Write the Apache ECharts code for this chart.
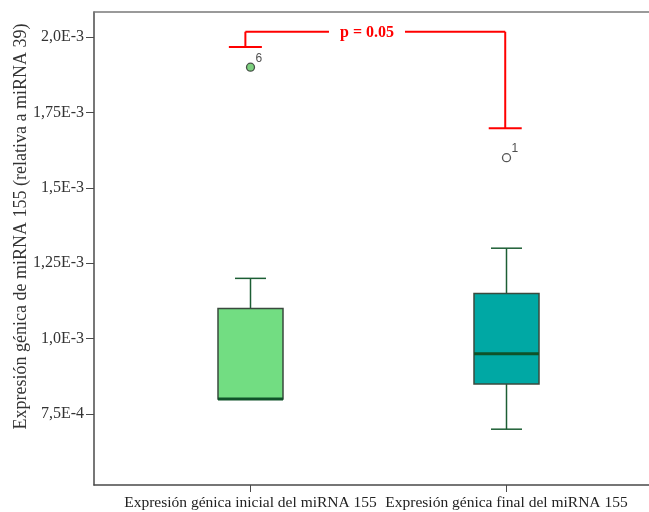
<!DOCTYPE html>
<html><head><meta charset="utf-8">
<script src="https://cdn.jsdelivr.net/npm/echarts@6/dist/echarts.min.js"></script>
<style>html,body{margin:0;padding:0;background:#fff}#c{width:649px;height:512px}</style>
</head><body><div id="c"></div>
<script>
// ---- data ----
const categories = ['Expresión génica inicial del miRNA 155', 'Expresión génica final del miRNA 155'];
const boxMin    = [0.00080, 0.00070];
const boxQ1     = [0.00080, 0.00085];
const boxMedian = [0.00080, 0.00095];
const boxQ3     = [0.00110, 0.00115];
const boxMax    = [0.00120, 0.00130];
const outlierCategory = [0, 1];
const outlierValues   = [0.00190, 0.00160];
const outlierIds      = ['6', '1'];
const tickValues = [0.00075, 0.001, 0.00125, 0.0015, 0.00175, 0.002];
const tickLabels = ['7,5E-4', '1,0E-3', '1,25E-3', '1,5E-3', '1,75E-3', '2,0E-3'];
const yMin = 0.000515, yMax = 0.002083;
const yName = 'Expresión génica de miRNA 155 (relativa a miRNA 39)';
const pLabel = 'p = 0.05';
const bracketX = [-0.02, 0.995];          // category positions of bracket legs
const bracketY = [0.001967, 0.0020176, 0.001698]; // left end, top, right end

// ---- styles ----
const serif = 'Liberation Serif';
const axisColor = '#4a4a4a';
const boxColors = ['#72dd82', '#00a8a4'];
const outlierFill = ['#5cc45f', '#ffffff'];
const whiskerColor = '#1c5e34';
const medianColor = '#0f5229';
const boxBorder = '#3a4a3e';
const boxWidth = 65, capWidth = 31;

function tickFmt(v) {
  let best = 0;
  tickValues.forEach((t, k) => { if (Math.abs(t - v) < Math.abs(tickValues[best] - v)) best = k; });
  return tickLabels[best];
}

const chart = echarts.init(document.getElementById('c'));
const xExt = [-0.6113, 1.5566];
const option = {
  animation: false,
  grid: [
    {left: 94, right: 0, top: 12, bottom: 27, containLabel: false, outerBoundsMode: 'none'},
    {left: 122.5, right: 14.5, top: 12, bottom: 27, containLabel: false, outerBoundsMode: 'none'}
  ],
  xAxis: [
    {gridIndex: 0, type: 'value', min: xExt[0], max: xExt[1], position: 'bottom',
     axisLine: {show: true, onZero: false, lineStyle: {color: axisColor, width: 1.5}},
     axisTick: {show: false}, axisLabel: {show: false}, splitLine: {show: false}},
    {gridIndex: 0, type: 'value', min: xExt[0], max: xExt[1], position: 'top',
     axisLine: {show: true, onZero: false, lineStyle: {color: '#7a7a7a', width: 1.5}},
     axisTick: {show: false}, axisLabel: {show: false}, splitLine: {show: false}},
    {gridIndex: 1, type: 'category', data: categories, position: 'bottom',
     axisLine: {show: false, onZero: false},
     axisTick: {show: true, alignWithLabel: true, length: 7, lineStyle: {color: axisColor, width: 1}},
     axisLabel: {interval: 0, margin: 10, fontFamily: serif, fontSize: 15.5, color: '#222'},
     splitLine: {show: false}}
  ],
  yAxis: [
    {gridIndex: 0, type: 'value', min: yMin, max: yMax,
     axisLine: {show: true, onZero: false, lineStyle: {color: axisColor, width: 1.5}},
     axisTick: {show: true, length: 8, customValues: tickValues, lineStyle: {color: axisColor, width: 1}},
     axisLabel: {customValues: tickValues, formatter: tickFmt, fontFamily: serif, fontSize: 16, color: '#333', margin: 10},
     splitLine: {show: false},
     name: yName, nameLocation: 'middle', nameRotate: 90, nameGap: 64, nameMoveOverlap: false,
     nameTextStyle: {fontFamily: serif, fontSize: 18, color: '#333', padding: [0, 0, 0, 44]}},
    {gridIndex: 1, type: 'value', min: yMin, max: yMax, show: false}
  ],
  series: [
    {
      type: 'custom', xAxisIndex: 2, yAxisIndex: 1,
      data: categories.map((c, i) => [i, boxMin[i], boxQ1[i], boxMedian[i], boxQ3[i], boxMax[i]]),
      encode: {x: 0, y: [1, 2, 3, 4, 5]},
      renderItem: function (params, api) {
        const i = api.value(0);
        const vMin = api.value(1), vQ1 = api.value(2), vMed = api.value(3), vQ3 = api.value(4), vMax = api.value(5);
        const top = api.coord([i, vMax]), q3 = api.coord([i, vQ3]), med = api.coord([i, vMed]);
        const q1 = api.coord([i, vQ1]), bot = api.coord([i, vMin]);
        const x = top[0], hw = boxWidth / 2, cw = capWidth / 2;
        const wl = {stroke: whiskerColor, lineWidth: 1.5};
        const ch = [];
        if (vMax > vQ3) {
          ch.push({type: 'line', shape: {x1: x, y1: top[1], x2: x, y2: q3[1]}, style: wl});
          ch.push({type: 'line', shape: {x1: x - cw, y1: top[1], x2: x + cw, y2: top[1]}, style: wl});
        }
        if (vMin < vQ1) {
          ch.push({type: 'line', shape: {x1: x, y1: q1[1], x2: x, y2: bot[1]}, style: wl});
          ch.push({type: 'line', shape: {x1: x - cw, y1: bot[1], x2: x + cw, y2: bot[1]}, style: wl});
        }
        ch.push({type: 'rect', shape: {x: x - hw, y: q3[1], width: boxWidth, height: q1[1] - q3[1]},
                 style: {fill: boxColors[i], stroke: boxBorder, lineWidth: 1.5}});
        ch.push({type: 'line', shape: {x1: x - hw, y1: med[1], x2: x + hw, y2: med[1]},
                 style: {stroke: medianColor, lineWidth: 3}});
        return {type: 'group', children: ch};
      }
    },
    {
      type: 'scatter', xAxisIndex: 2, yAxisIndex: 1, symbol: 'circle', symbolSize: 8,
      data: outlierValues.map((v, k) => ({
        value: [outlierCategory[k], v],
        itemStyle: {color: outlierFill[k], borderColor: '#2a2a2a', borderWidth: 1.3},
        label: {formatter: outlierIds[k]}
      })),
      label: {show: true, position: [13, -4], align: 'center', verticalAlign: 'middle',
              fontFamily: 'Liberation Sans', fontSize: 12, color: '#222'}
    },
    {
      type: 'custom', xAxisIndex: 0, yAxisIndex: 0,
      data: [[bracketX[0], bracketX[1], bracketY[0], bracketY[1], bracketY[2]]],
      encode: {x: [0, 1], y: [2, 3, 4]},
      renderItem: function (params, api) {
        const L = api.coord([api.value(0), api.value(3)]);
        const R = api.coord([api.value(1), api.value(3)]);
        const Lb = api.coord([api.value(0), api.value(2)]);
        const Rb = api.coord([api.value(1), api.value(4)]);
        const tx = L[0] + (R[0] - L[0]) * 0.468;
        const gap = 38, cap = 16.5;
        const s = {stroke: '#ff0000', lineWidth: 2};
        return {type: 'group', children: [
          {type: 'line', shape: {x1: L[0], y1: L[1], x2: Lb[0], y2: Lb[1]}, style: s},
          {type: 'line', shape: {x1: Lb[0] - cap, y1: Lb[1], x2: Lb[0] + cap, y2: Lb[1]}, style: s},
          {type: 'line', shape: {x1: L[0], y1: L[1], x2: tx - gap, y2: L[1]}, style: s},
          {type: 'line', shape: {x1: tx + gap, y1: R[1], x2: R[0], y2: R[1]}, style: s},
          {type: 'line', shape: {x1: R[0], y1: R[1], x2: Rb[0], y2: Rb[1]}, style: s},
          {type: 'line', shape: {x1: Rb[0] - cap, y1: Rb[1], x2: Rb[0] + cap, y2: Rb[1]}, style: s},
          {type: 'text', x: tx, y: L[1] + 1, style: {text: pLabel, fill: '#ff0000', fontFamily: serif,
            fontSize: 16, fontWeight: 'bold', align: 'center', verticalAlign: 'middle'}}
        ]};
      }
    }
  ]
};
chart.setOption(option);
</script>
</body></html>
